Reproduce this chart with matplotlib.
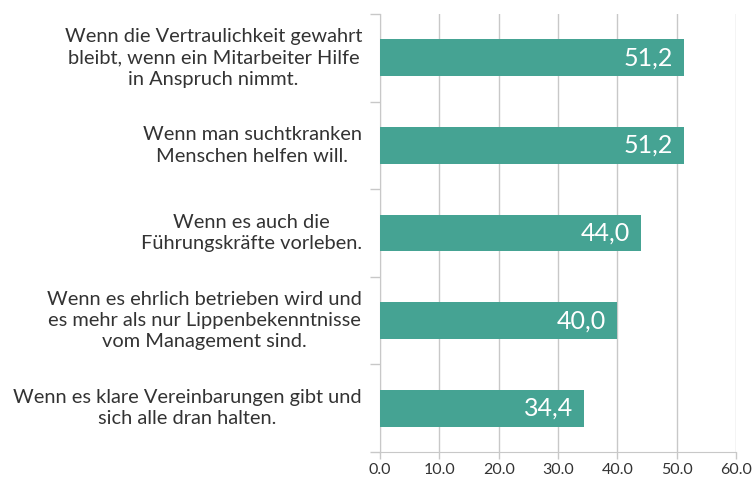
import matplotlib
matplotlib.use("Agg")
import matplotlib.pyplot as plt
import numpy as np

categories = [
    "Wenn die Vertraulichkeit gewahrt\nbleibt, wenn ein Mitarbeiter Hilfe\nin Anspruch nimmt.",
    "Wenn man suchtkranken\nMenschen helfen will.",
    "Wenn es auch die\nFührungskräfte vorleben.",
    "Wenn es ehrlich betrieben wird und\nes mehr als nur Lippenbekenntnisse\nvom Management sind.",
    "Wenn es klare Vereinbarungen gibt und\nsich alle dran halten.",
]
values = [51.2, 51.2, 44.0, 40.0, 34.4]
xticks = [0, 10, 20, 30, 40, 50, 60]
xticklabels = ["0.0", "10.0", "20.0", "30.0", "40.0", "50.0", "60.0"]

bar_color = "#45A393"
grid_color = "#C8C8C8"
text_color = "#333333"

plt.rcParams['font.family'] = ['Lato', 'DejaVu Sans']

fig = plt.figure(figsize=(7.54, 4.78), dpi=100)
ax = fig.add_axes([380/754, 1 - 452/478, (736 - 380)/754, (452 - 14)/478])

y = np.arange(len(categories))
ax.barh(y, values, height=0.42, color=bar_color, zorder=3)

for yi, v in zip(y, values):
    ax.annotate(f"{v:.1f}".replace(".", ","), xy=(v, yi), xytext=(-11, 0),
                textcoords="offset pixels", ha="right", va="center",
                color="white", fontsize=18, zorder=4)

ax.set_xlim(0, 60)
ax.set_ylim(len(categories) - 0.5, -0.5)
ax.set_xticks(xticks)
ax.set_xticklabels(xticklabels, fontsize=11.5, color=text_color)
ax.xaxis.grid(True, color=grid_color, linewidth=1, zorder=0)
ax.set_axisbelow(True)

ax.set_yticks(y)
ax.set_yticklabels([])
ax.tick_params(axis='y', which='major', length=0)
ax.set_yticks(np.arange(-0.5, len(categories), 1), minor=True)
ax.tick_params(axis='y', which='minor', length=7, color=grid_color, width=1)
ax.tick_params(axis='x', length=5, color=grid_color, width=1, pad=3)

for yi, lab in zip(y, categories):
    ax.annotate(lab, xy=(0, yi), xycoords=('axes fraction', 'data'),
                xytext=(-18, 0), textcoords='offset pixels',
                ha='right', va='center', multialignment='center',
                fontsize=14.4, color=text_color, linespacing=1.3)

for s in ['top', 'right']:
    ax.spines[s].set_visible(False)
ax.spines['left'].set_color(grid_color)
ax.spines['bottom'].set_color(grid_color)

fig.savefig("out.png", dpi=100, facecolor="white")
